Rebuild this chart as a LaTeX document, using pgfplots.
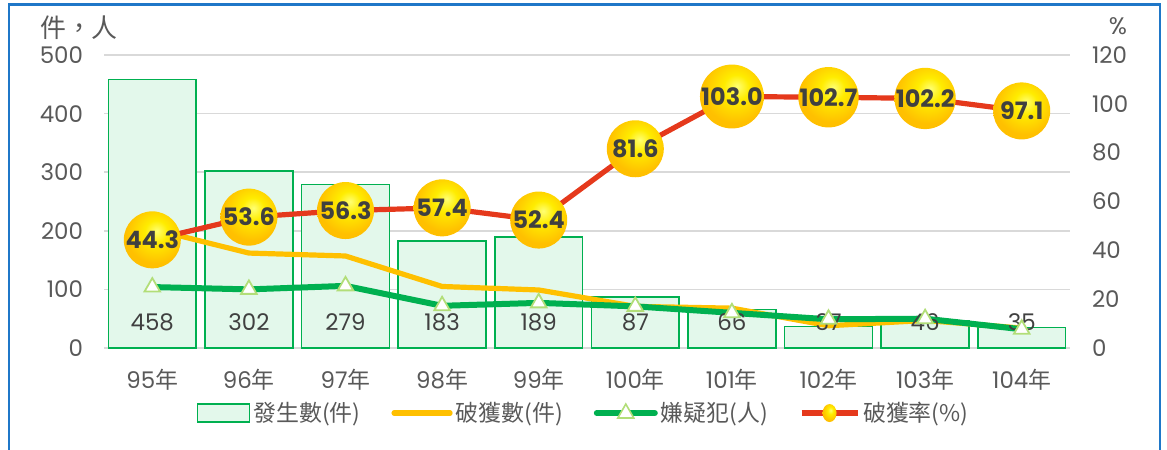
\documentclass[border=0pt]{standalone}
\usepackage{pgfplots}
\pgfplotsset{compat=1.18}
\usepackage{fontspec}
\setmainfont{Poppins}
\newfontfamily\cjk{Noto Sans CJK TC}
\definecolor{FrameBlue}{HTML}{1F77C8}
\definecolor{BarFill}{HTML}{E3F8EB}
\definecolor{BarGreen}{HTML}{00B050}
\definecolor{Yel}{HTML}{FFC000}
\definecolor{TriGreen}{HTML}{B2DE78}
\definecolor{RedLine}{HTML}{E5391C}
\definecolor{TickGray}{HTML}{595959}
\definecolor{LabGray}{HTML}{404040}
\definecolor{GridGray}{HTML}{D9D9D9}
\pgfdeclareradialshading{goldball}{\pgfpoint{4bp}{8bp}}{%
  color(0bp)=(yellow!55!white); color(10bp)=(yellow!70!Yel); color(26bp)=(Yel);
  color(50bp)=(Yel!92!orange); color(54bp)=(Yel!80!orange); color(80bp)=(Yel!80!orange)}
\newcommand\nian{{\cjk 年}}

\begin{document}
\begin{tikzpicture}
\useasboundingbox (0,0) rectangle (583.5bp,225bp);
\draw[FrameBlue, line width=1.3bp] (4.5bp,-3bp) -- (4.5bp,222.6bp) -- (580bp,222.6bp) -- (580bp,-3bp);
\node[font=\fontsize{13}{15}\selectfont\cjk, text=TickGray] at (39.5bp,211bp) {件，人};
\node[font=\fontsize{12}{14}\selectfont, text=TickGray] at (559bp,212bp) {\%};

\begin{axis}[
  at={(52bp,51bp)}, anchor=south west,
  scale only axis, width=483bp, height=146.5bp,
  xmin=-0.5, xmax=9.5, ymin=0, ymax=500,
  xtick={0,...,9},
  xticklabels={95\nian,96\nian,97\nian,98\nian,99\nian,100\nian,101\nian,102\nian,103\nian,104\nian},
  ytick={0,100,...,500},
  /pgf/number format/assume math mode=true,
  /pgf/number format/1000 sep={},
  scaled ticks=false,
  major tick length=0pt,
  axis x line*=bottom, axis y line*=left,
  y axis line style={draw=none},
  x axis line style={GridGray, line width=1.1bp},
  ymajorgrids, grid style={GridGray, line width=0.8bp},
  tick label style={font=\fontsize{11.5}{13}\selectfont, text=TickGray},
  yticklabel style={xshift=-7bp},
  xticklabel style={yshift=-7bp},
  clip=false,
]
\addplot[ybar, bar width=0.91, fill=BarFill, draw=BarGreen, line width=0.8bp]
  coordinates {(0,458) (1,302) (2,279) (3,183) (4,189) (5,87) (6,66) (7,37) (8,46) (9,35)};
\addplot[draw=none, mark=none, nodes near coords, point meta=explicit symbolic,
  every node near coord/.append style={anchor=center, font=\fontsize{11.5}{13}\selectfont, text=LabGray}]
  coordinates {(0,44)[458] (1,44)[302] (2,44)[279] (3,44)[183] (4,44)[189] (5,44)[87] (6,44)[66] (7,44)[37] (8,44)[46] (9,44)[35]};
\addplot[Yel, line width=2.6bp, mark=none]
  coordinates {(0,203) (1,162) (2,157) (3,105) (4,99) (5,71) (6,68) (7,38) (8,47) (9,34)};
\addplot[BarGreen, line width=3bp, mark=triangle*, mark size=4.5bp,
  mark options={fill=white, draw=TriGreen, line width=0.9bp}]
  coordinates {(0,104) (1,100) (2,106) (3,72) (4,77) (5,71) (6,60) (7,49) (8,50) (9,32)};
\end{axis}

\begin{axis}[
  at={(52bp,51bp)}, anchor=south west,
  scale only axis, width=483bp, height=146.5bp,
  xmin=-0.5, xmax=9.5, ymin=0, ymax=120,
  ytick={0,20,...,120},
  /pgf/number format/assume math mode=true,
  major tick length=0pt,
  axis x line=none, axis y line*=right,
  y axis line style={draw=none},
  tick label style={font=\fontsize{11.5}{13}\selectfont, text=TickGray},
  yticklabel style={xshift=7.5bp},
  clip=false,
  legend columns=4,
  legend style={at={(0.497,-0.222)}, anchor=center, draw=none, fill=none,
    font=\fontsize{11.5}{13}\selectfont\cjk, text=TickGray,
    nodes={inner xsep=1.5bp},
    /tikz/every even column/.append style={column sep=14bp},
    /tikz/every odd column/.append style={column sep=0bp}},
]
\addlegendimage{legend image code/.code={\draw[fill=BarFill, draw=BarGreen, line width=0.8bp] (0bp,-4.5bp) rectangle (26bp,4.5bp);}}
\addlegendentry{發生數(件)}
\addlegendimage{legend image code/.code={\draw[Yel, line width=2.6bp, line cap=round] (0bp,0bp) -- (28bp,0bp);}}
\addlegendentry{破獲數(件)}
\addlegendimage{legend image code/.code={\draw[BarGreen, line width=3bp, line cap=round] (0bp,0bp) -- (29bp,0bp);
  \draw[TriGreen, fill=white, line width=0.8bp] (14.5bp,4.5bp) -- (10.5bp,-2.5bp) -- (18.5bp,-2.5bp) -- cycle;}}
\addlegendentry{嫌疑犯(人)}
\addplot[RedLine, line width=2.6bp, mark=none,
  nodes near coords={\pgfmathprintnumber[fixed, fixed zerofill, precision=1]{\pgfplotspointmeta}},
  every node near coord/.append style={anchor=center, circle, shading=goldball, minimum size=28.5bp,
    inner sep=0pt, font=\fontsize{12}{14}\selectfont\bfseries, text=LabGray},
  legend image code/.code={\draw[RedLine, line width=2.6bp] (0bp,0bp) -- (28bp,0bp);
    \path[shading=goldball, draw=none] (14bp,0bp) ellipse (3.5bp and 4.5bp);}]
  coordinates {(0,44.3) (1,53.6) (2,56.3) (3,57.4) (4,52.4) (5,81.6) (6,103.0) (7,102.7) (8,102.2) (9,97.1)};
\addlegendentry{破獲率(\%)}
\end{axis}
\end{tikzpicture}
\end{document}
